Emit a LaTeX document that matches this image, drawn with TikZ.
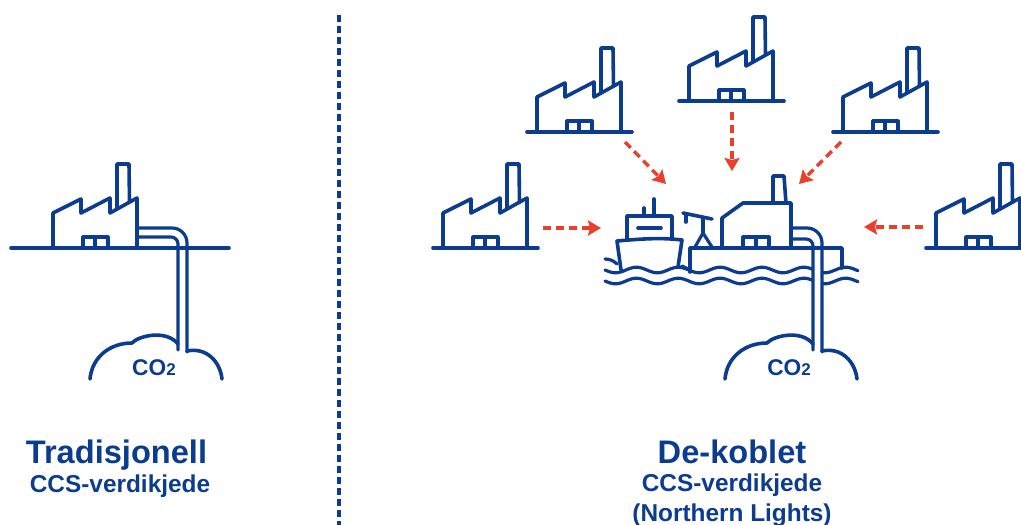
\documentclass[tikz,border=0pt]{standalone}
\usepackage{fontspec}
\setmainfont{Liberation Sans}
\usetikzlibrary{arrows.meta}
\definecolor{lineblue}{HTML}{0B3C8F}
\definecolor{flowred}{HTML}{E8402A}
\tikzset{
  outline/.style={
    draw=lineblue,
    line width=3.6pt,
    line cap=round,
    line join=round
  },
  thin outline/.style={
    outline,
    line width=3.2pt
  },
  flow/.style={
    -{Stealth[length=13pt,width=15pt,inset=2pt]},
    color=flowred,
    line width=3.4pt,
    dash pattern=on 8pt off 5pt
  },
  big title/.style={
    font=\fontsize{32.6}{36}\selectfont\bfseries,
    color=lineblue,
    anchor=base
  },
  sub title/.style={
    font=\fontsize{24.4}{29.6}\selectfont\bfseries,
    color=lineblue,
    align=center
  },
  co label/.style={
    font=\fontsize{22.7}{24}\selectfont\bfseries,
    color=lineblue,
    anchor=base
  },
  factory/.pic={
    \draw[outline] (0,0) -- (0,-35) -- (28,-49) -- (28,-35) -- (57,-50) -- (57,-35) -- (84,-50) -- (84,0);
    \draw[outline] (64,-40) -- (64,-84) -- (76,-84) -- (76.5,-46);
    \draw[thin outline] (30,0) -- (30,-11) -- (55,-11) -- (55,0);
    \draw[thin outline] (42,-11) -- (42,0);
  },
  cloud/.pic={
    \draw[outline] (0,0) .. controls (2,-22) and (20,-36) .. (42,-36) .. controls (48,-43) and (76,-50) .. (88,-35);
    \draw[outline] (97,-28) .. controls (116,-32) and (130,-18) .. (132,0);
  }
}
\begin{document}
\begin{tikzpicture}[x=1pt, y=-1pt]
    \useasboundingbox (0,0) rectangle (1021,525);
    \clip (0,0) rectangle (1021,525);

    % skillelinje
    \draw[lineblue, line width=3.4pt, dash pattern=on 7pt off 4pt] (339,15) -- (339,525);

    % venstre side
    \draw[outline] (11,248) -- (229,248);
    \pic at (53,248) {factory};
    \pic at (90,379) {cloud};
    \draw[thin outline, rounded corners=7pt] (138,237) -- (178,237) -- (178,350);
    \draw[thin outline, rounded corners=15pt] (138,228) -- (187,228) -- (187,352);
    \node[co label] (co left) at (154,375) {CO{\fontsize{17}{17}\selectfont 2}};
    \node[big title] (title left) at (116.5,463) {Tradisjonell};
    \node[sub title, anchor=base] (sub left) at (120,492) {CCS-verdikjede};

    % fabrikker rundt knutepunktet
    \foreach \px/\py in {537/132, 689/101, 843/132, 443/248, 936/248} {
      \pic at (\px,\py) {factory};
      \draw[outline] (\px-10,\py) -- (\px+95,\py);
    }

    % roede piler
    \coordinate (a start) at (625,142);
    \coordinate (a end) at (666,184);
    \coordinate (b start) at (732,112);
    \coordinate (b end) at (732,171);
    \coordinate (c start) at (841,142);
    \coordinate (c end) at (799,184);
    \coordinate (d start) at (543,228);
    \coordinate (d end) at (601,228);
    \coordinate (e start) at (923,227);
    \coordinate (e end) at (864,227);
    \draw[flow] (a start) -- (a end);
    \draw[flow] (b start) -- (b end);
    \draw[flow] (c start) -- (c end);
    \draw[flow] (d start) -- (d end);
    \draw[flow] (e start) -- (e end);

    % skip
    \draw[outline] (621,270) -- (617,241) .. controls (650,238) and (665,238) .. (682,240) -- (678,267);
    \draw[outline] (627,240) -- (627,216) -- (672,216) -- (672,239);
    \draw[outline] (638,228) -- (661,228);
    \draw[outline] (654,199) -- (654,216);
    \draw[outline] (644,208) -- (644,216);

    % kran
    \draw[outline] (683,213) -- (712,219);
    \draw[outline] (686,215) -- (686,222);
    \draw[outline] (703,218) -- (703,233);
    \draw[thin outline] (695,247) -- (703,233) -- (712,247);

    % plattform med bygg
    \draw[outline] (690,272) -- (690,248) -- (842,248) -- (842,268);
    \draw[thin outline] (682,266) -- (690,270);
    \draw[outline] (722,247) -- (722,218) -- (743,203) -- (791,203) -- (791,247);
    \draw[outline] (773,203) -- (773,176) -- (784,176) -- (786,203);
    \draw[thin outline] (743,247) -- (743,237) -- (769,237) -- (769,247);
    \draw[thin outline] (756,237) -- (756,247);
    \draw[thin outline, rounded corners=7pt] (791,239) -- (813,239) -- (813,350);
    \draw[thin outline, rounded corners=15pt] (791,228) -- (822,228) -- (822,352);
    \pic at (725,379) {cloud};

    % boelger
    \draw[thin outline] (605,259) .. controls (610,259) and (614,261) .. (617,264);
    \foreach \wy in {270,281} {
      \draw[thin outline] plot[domain=605:812, samples=90, smooth] (\x,{\wy+2.8*sin(8.6*(\x-605))});
      \draw[thin outline] plot[domain=823:858, samples=20, smooth] (\x,{\wy+2.8*sin(8.6*(\x-605))});
    }

    % tekst hoeyre
    \node[co label] (co right) at (789,375) {CO{\fontsize{17}{17}\selectfont 2}};
    \node[big title] (title right) at (732,463) {De-koblet};
    \node[sub title] (sub right) at (732,500) {CCS-verdikjede\\(Northern Lights)};
\end{tikzpicture}
\end{document}
